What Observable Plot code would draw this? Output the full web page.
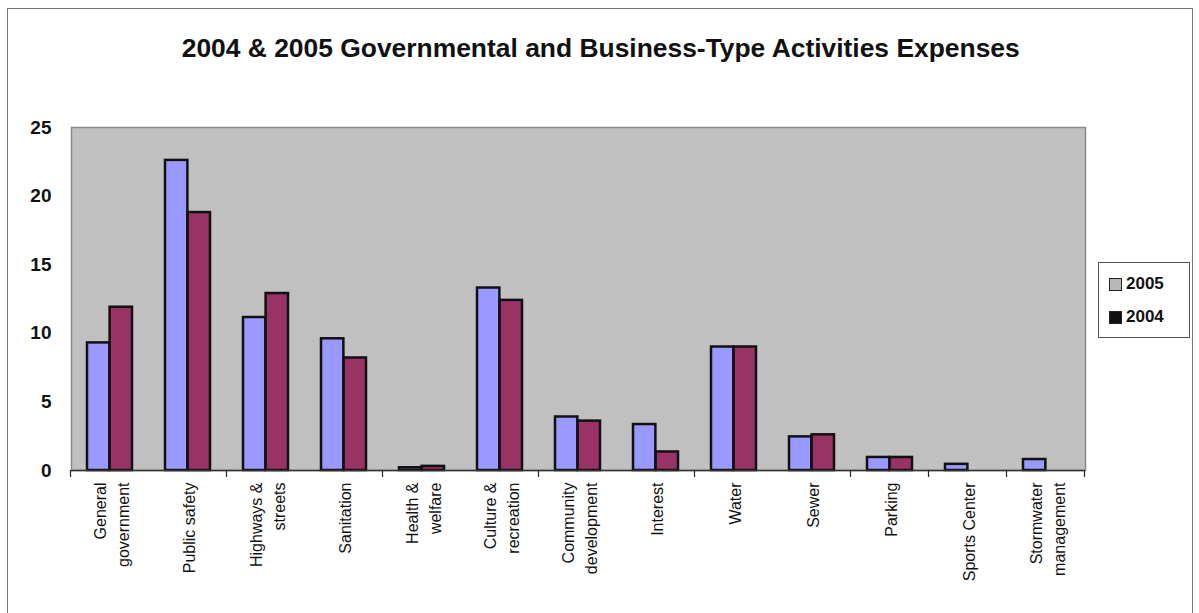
<!DOCTYPE html>
<html>
<head>
<meta charset="utf-8">
<script src="https://cdn.jsdelivr.net/npm/d3@7"></script>
<script src="https://cdn.jsdelivr.net/npm/@observablehq/plot@0.6"></script>
<style>
  html, body { margin: 0; padding: 0; background: #ffffff; }
  #wrap { position: relative; width: 1199px; height: 613px; overflow: hidden; background: #fff;
          font-family: "Liberation Sans", Arial, sans-serif; }
  #border { position: absolute; left: 7px; top: 8px; width: 1186px; height: 640px;
            border: 1px solid #777; box-sizing: border-box; }
  #title { position: absolute; left: 0; width: 1202px; top: 34px; text-align: center;
           font-family: "Liberation Sans", Arial, sans-serif; font-weight: bold; font-size: 25px; color: #111; }
  #title span { display: inline-block; transform-origin: center; white-space: nowrap; }
  #chart { position: absolute; left: 0; top: 100px; }
  #legend { position: absolute; left: 1098px; top: 262px; width: 92px; height: 76px;
            border: 1px solid #555; box-sizing: border-box; background: #fff; }
  .item { position: absolute; left: 10px; display: flex; align-items: center;
          font-family: "Liberation Sans", Arial, sans-serif; font-weight: bold;
          font-size: 17px; color: #111; }
  .sw { width: 13px; height: 13px; border: 1.5px solid #222; margin-right: 4px; box-sizing: border-box; }
</style>
</head>
<body>
<div id="wrap">
  <div id="border"></div>
  <div id="title"><span id="titletext"></span></div>
  <div id="chart"></div>
  <div id="legend"></div>
</div>
<script>
const titleText = "2004 & 2005 Governmental and Business-Type Activities Expenses";
const categories = [
  "General\ngovernment", "Public safety", "Highways &\nstreets", "Sanitation",
  "Health &\nwelfare", "Culture &\nrecreation", "Community\ndevelopment", "Interest",
  "Water", "Sewer", "Parking", "Sports Center", "Stormwater\nmanagement"
];
const seriesNames = ["2005", "2004"];
const values2005 = [9.3, 22.6, 11.15, 9.6, 0.2, 13.3, 3.9, 3.35, 9.0, 2.45, 0.95, 0.45, 0.8];
const values2004 = [11.9, 18.8, 12.9, 8.2, 0.3, 12.4, 3.6, 1.35, 9.0, 2.6, 0.95, 0, 0];
const yTicks = [0, 5, 10, 15, 20, 25];
const tickBoundaryIndex = [0, 2, 4, 6, 8, 10, 11, 12, 13];
const barColors = {"2005": "#9999ff", "2004": "#993366"};
const legendSwatch = {"2005": "#b8b8b8", "2004": "#111111"};

const rows2005 = categories.map((c, i) => ({category: c, value: values2005[i]}));
const rows2004 = categories.map((c, i) => ({category: c, value: values2004[i]}));

const W = 1199, H = 513;
const mL = 71, mR = 114, mT = 27, mB = 143;
const pInner = 0.42, pOuter = 0.21;
const bandW = (1 - pInner) * (W - mL - mR) / (categories.length - pInner + 2 * pOuter);
const half = bandW / 2;

function boundaryTicks(index, scales, values, dimensions) {
  const x = scales.x;
  const step = x.step();
  const bw = x.bandwidth();
  const y0 = dimensions.height - dimensions.marginBottom;
  const g = d3.create("svg:g").attr("stroke", "#222").attr("stroke-width", 1.2);
  for (const k of tickBoundaryIndex) {
    let px;
    if (k < categories.length) px = x(categories[k]) + bw / 2 - step / 2;
    else px = x(categories[k - 1]) + bw / 2 + step / 2;
    g.append("line").attr("x1", px).attr("x2", px).attr("y1", y0).attr("y2", y0 + 7);
  }
  return g.node();
}

const chart = Plot.plot({
  width: W, height: H,
  marginLeft: mL, marginRight: mR, marginTop: mT, marginBottom: mB,
  style: {background: "transparent", fontFamily: "\"Liberation Sans\", Arial, sans-serif", color: "#111"},
  x: {type: "band", domain: categories, paddingInner: pInner, paddingOuter: pOuter, label: null},
  y: {domain: [0, 25], label: null},
  marks: [
    Plot.frame({fill: "#c0c0c0", stroke: "#8a8a8a", strokeWidth: 1.5}),
    Plot.barY(rows2005, {x: "category", y: "value", fill: barColors["2005"], stroke: "#111", strokeWidth: 2.5, insetRight: half}),
    Plot.barY(rows2004, {x: "category", y: "value", fill: barColors["2004"], stroke: "#111", strokeWidth: 2.5, insetLeft: half}),
    Plot.ruleY([0], {stroke: "#333", strokeWidth: 1.5}),
    boundaryTicks,
    Plot.axisY({ticks: yTicks, tickSize: 0, tickPadding: 20, fontSize: 19, fontWeight: "bold", label: null}),
    Plot.axisX({tickSize: 0, tickPadding: 12, tickRotate: -90, fontSize: 16, lineHeight: 1.45, label: null})
  ]
});
document.getElementById("chart").appendChild(chart);

// title
const tt = document.getElementById("titletext");
tt.textContent = titleText;
const tw = tt.getBoundingClientRect().width;
tt.style.transform = `scaleX(${838 / tw})`;

// legend
const legend = document.getElementById("legend");
seriesNames.forEach((s, i) => {
  const item = document.createElement("div");
  item.className = "item";
  item.style.top = (i === 0 ? 11 : 44) + "px";
  const sw = document.createElement("div");
  sw.className = "sw";
  sw.style.background = legendSwatch[s];
  const lab = document.createElement("span");
  lab.textContent = s;
  item.appendChild(sw);
  item.appendChild(lab);
  legend.appendChild(item);
});
</script>
</body>
</html>
